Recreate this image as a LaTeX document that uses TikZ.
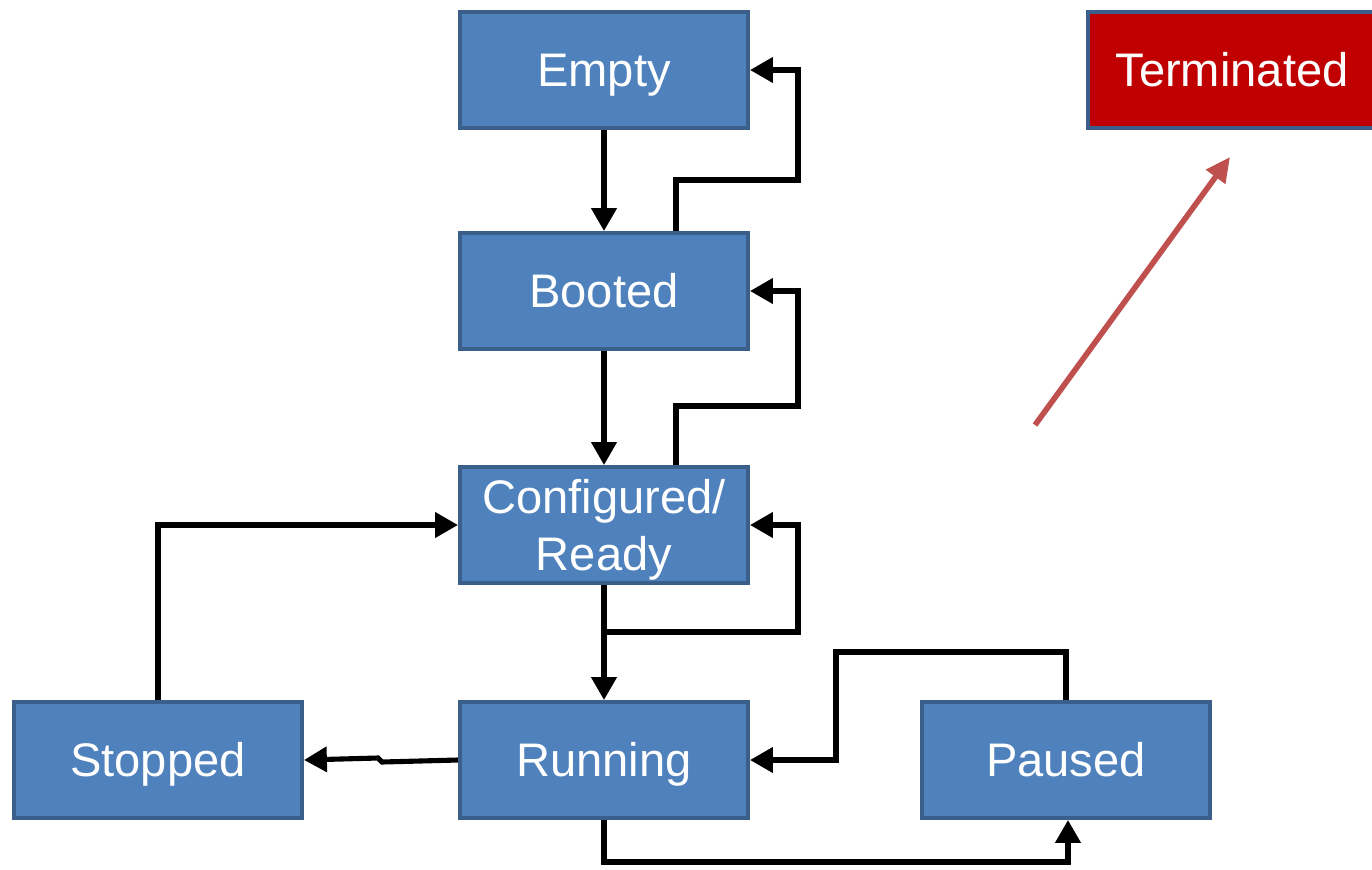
\documentclass[tikz,border=0pt]{standalone}
\usepackage{fontspec}
\setmainfont{Liberation Sans}
\usetikzlibrary{arrows.meta}
\definecolor{boxblue}{HTML}{4F81BD}
\definecolor{boxline}{HTML}{3A5F8B}
\definecolor{termred}{HTML}{C00000}
\definecolor{arrred}{HTML}{C0504D}
\begin{document}
\begin{tikzpicture}[x=0.01cm, y=-0.01cm, >={Triangle[length=6.5pt,width=7pt]}, line join=miter,
	state/.style={draw=boxline, line width=1.1pt, fill=boxblue, text=white, minimum width=2.88cm, minimum height=1.16cm, inner sep=0pt, align=center, font=\fontsize{13.4}{16.3}\selectfont, text height=9.6pt, text depth=0pt},
	link/.style={->, line width=1.45pt}]
	
	\useasboundingbox (0,0) rectangle (1372,869);
	\clip (0,0) rectangle (1372,869);
	
	\node[state] (empty) at (604,70) {Empty};
	\node[state] (booted) at (604,291) {Booted};
	\node[state, text height=25.9pt] (conf) at (604,525) {Configured/\\Ready};
	\node[state] (run) at (604,760) {Running};
	\node[state] (stop) at (158,760) {Stopped};
	\node[state] (pause) at (1066,760) {Paused};
	\node[state, fill=termred] (term) at (1232,70) {Terminated};
	
	% forward steps
	\draw[link] (empty.south) -- (booted.north);
	\draw[link] (booted.south) -- (conf.north);
	\draw[link] (conf.south) -- (run.north);
	% back loops
	\draw[link] ([xshift=0.72cm]booted.north) |- (798,180) |- (empty.east);
	\draw[link] ([xshift=0.72cm]conf.north) |- (798,406) |- (booted.east);
	\draw[link] (conf.south) |- (798,632) |- (conf.east);
	\draw[link] (stop.north) |- (conf.west);
	\draw[link] (run.west) -- (382,762) -- (378,758) -- (stop.east);
	\draw[link] (pause.north) |- (836,652) |- (run.east);
	\draw[link] (run.south) |- (1068,862) -- (pause.south -| 1068,0);
	
	\coordinate (kill) at (1035,425);
	\coordinate (killend) at (1230,157);
	\draw[->, >={Triangle[length=7pt,width=6.5pt]}, arrred, line width=1.6pt] (kill) -- (killend);
\end{tikzpicture}
\end{document}
